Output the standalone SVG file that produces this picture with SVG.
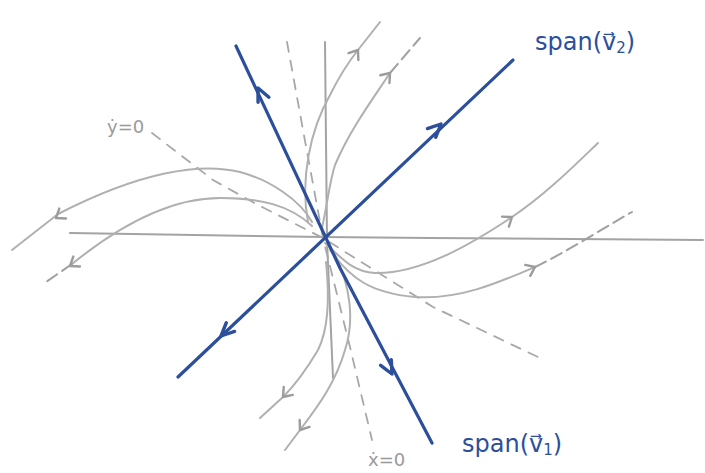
<svg xmlns="http://www.w3.org/2000/svg" width="705" height="473" viewBox="0 0 705 473">
<style>
.axis{fill:none;stroke:#a3a3a3;stroke-width:2;stroke-linecap:round}
.null{fill:none;stroke:#a8a8a8;stroke-width:1.8;stroke-dasharray:10 9;stroke-linecap:round}
.traj{fill:none;stroke:#b0b0b0;stroke-width:2;stroke-linecap:round}
.tdash{fill:none;stroke:#a0a0a0;stroke-width:2;stroke-dasharray:12 6;stroke-linecap:round}
.eig{fill:none;stroke:#2c4f9c;stroke-width:3.2;stroke-linecap:round;stroke-linejoin:round}
.chev{fill:none;stroke:#9c9c9c;stroke-width:2.4;stroke-linecap:round;stroke-linejoin:round}
.bchev{fill:none;stroke:#2c4f9c;stroke-width:3.4;stroke-linecap:round;stroke-linejoin:round}
.glab{font-family:"DejaVu Sans",sans-serif;font-size:18px;fill:#9a9a9a}
.blab{font-family:"DejaVu Sans",sans-serif;font-size:24px;fill:#2c4f9c}
</style>
<defs>
<path id="ch" d="M-8,-6 L0,0 L-8,6"/>
<path id="bch" d="M-13,-6 L0,0 L-13,6"/>
</defs>
<g id="axes">
<path class="axis" d="M70,233 L323,237 L430,238 L703,240"/>
<path class="axis" d="M325,42 L327,240 L333,378"/>
</g>
<g id="nullclines">
<path class="null" d="M152,133 L213,180 L258,205 L323,238 L433,307 L540,358"/>
<path class="null" d="M287,42 L303,130 L323,238 L350,347 L372,440"/>
<text class="glab" x="107" y="133">ẏ=0</text>
<text class="glab" x="368" y="466">ẋ=0</text>
</g>
<g id="connectors">
<path class="traj" d="M312,222 C 300,200 270,180 240,172 C 200,162 140,172 58,214 L 12,250"/>
<path class="traj" d="M312,226 C 290,205 260,198 220,198 C 170,198 120,225 72,264"/>
<path class="tdash" d="M72,264 L46,282"/>
<path class="traj" d="M325,243 C 345,262 355,272 375,273 C 420,274 470,245 512,217 C 545,195 575,165 598,143"/>
<path class="traj" d="M330,250 C 350,278 370,293 415,297 C 460,300 500,282 535,267"/>
<path class="tdash" d="M535,267 C 570,250 600,230 632,212"/>
<path class="traj" d="M308,222 C 300,180 310,130 330,95 C 340,75 350,60 358,50 L 380,22"/>
<path class="traj" d="M322,228 C 328,200 330,180 335,165 C 350,130 372,100 390,73"/>
<path class="tdash" d="M390,73 L420,38"/>
<path class="traj" d="M326,262 C 330,300 328,330 318,350 C 305,372 292,388 283,397 L 260,418"/>
<path class="traj" d="M335,255 C 350,285 355,320 345,350 C 335,385 315,410 300,430 L 285,450"/>
<use href="#ch" class="chev" transform="translate(56,218) rotate(146)"/>
<use href="#ch" class="chev" transform="translate(70,266) rotate(146)"/>
<use href="#ch" class="chev" transform="translate(512,217) rotate(-35)"/>
<use href="#ch" class="chev" transform="translate(535,267) rotate(-25)"/>
<use href="#ch" class="chev" transform="translate(358,50) rotate(-55)"/>
<use href="#ch" class="chev" transform="translate(390,73) rotate(-50)"/>
<use href="#ch" class="chev" transform="translate(283,397) rotate(131)"/>
<use href="#ch" class="chev" transform="translate(300,430) rotate(125)"/>
<path class="eig" d="M236,46 L340,268 L432,443"/>
<path class="eig" d="M178,377 L513,60"/>
<use href="#bch" class="bchev" transform="translate(258,88) rotate(-115)"/>
<use href="#bch" class="bchev" transform="translate(392,374) rotate(62.3)"/>
<use href="#bch" class="bchev" transform="translate(441,124) rotate(-43.4)"/>
<use href="#bch" class="bchev" transform="translate(221,336) rotate(136.6)"/>
</g>
<g id="label-v2">
<text class="blab" x="535" y="50">span(v⃗<tspan font-size="15" dy="3">2</tspan><tspan dy="-3">)</tspan></text>
</g>
<g id="label-v1">
<text class="blab" x="462" y="452">span(v⃗<tspan font-size="15" dy="3">1</tspan><tspan dy="-3">)</tspan></text>
</g>
</svg>
